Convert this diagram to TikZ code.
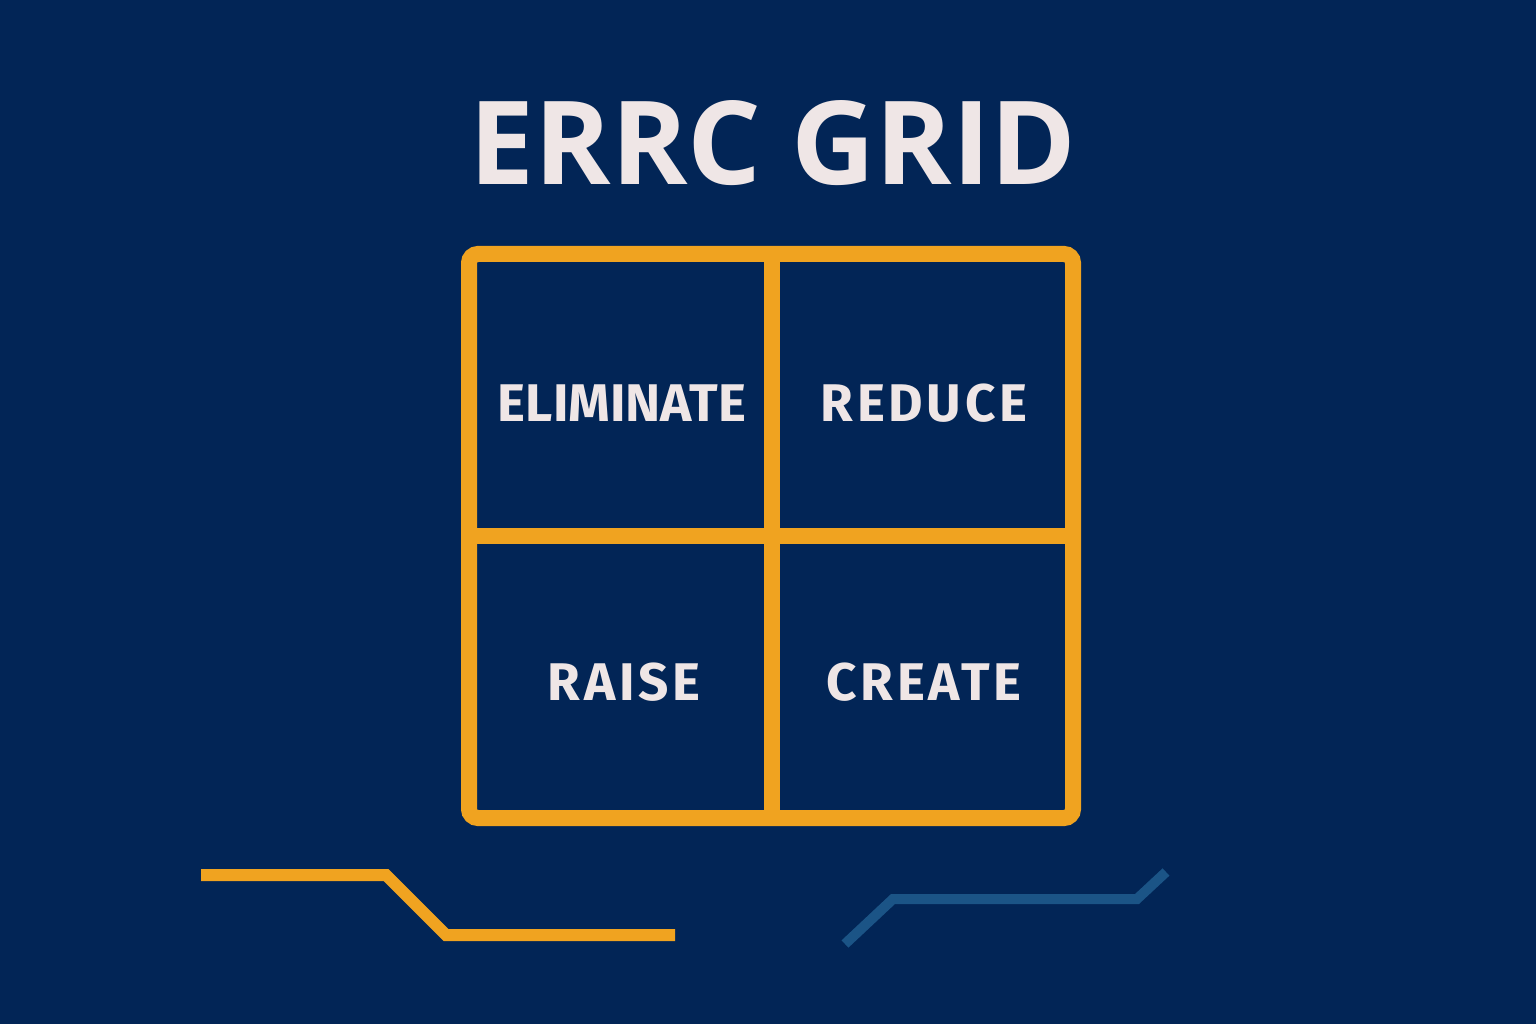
\documentclass[tikz,border=0pt]{standalone}
\usepackage{fontspec}
\setmainfont{Open Sans}
\newfontfamily\labelfont{Fira Sans}
\newfontfamily\widelabelfont[LetterSpace=7]{Fira Sans}
\definecolor{bgnavy}{HTML}{022556}
\definecolor{gridorange}{HTML}{F0A320}
\definecolor{textwhite}{HTML}{EFE6E6}
\definecolor{lineblue}{HTML}{1B5486}
\tikzset{
  framebox/.style={draw=gridorange, line width=16pt, rounded corners=9pt},
  divider/.style={draw=gridorange, line width=16pt},
  celltext/.style={text=textwhite, font=\labelfont\bfseries\fontsize{53}{56}\selectfont, anchor=center, inner sep=0pt},
  widecelltext/.style={celltext, font=\widelabelfont\bfseries\fontsize{53}{56}\selectfont},
  titletext/.style={text=textwhite, font=\bfseries\fontsize{116}{120}\selectfont, anchor=center, inner sep=0pt},
  decoorange/.style={draw=gridorange, line width=12pt},
  decoblue/.style={draw=lineblue, line width=10pt}
}
\begin{document}
\begin{tikzpicture}[x=1pt,y=-1pt]
\useasboundingbox (0,0) rectangle (1536,1024);
\fill[bgnavy] (0,0) rectangle (1536,1024);
\node[titletext] (title) at (773,143) {ERRC GRID};
\draw[framebox] (469,254) rectangle (1073,818);
\draw[divider] (772,254) -- (772,818);
\draw[divider] (469,536) -- (1073,536);
\node[celltext] (elim) at (622,403) {ELIMINATE};
\node[widecelltext] (reduce) at (924,403) {REDUCE};
\node[widecelltext] (raise) at (624,682) {RAISE};
\node[widecelltext] (create) at (924,682) {CREATE};
\draw[decoorange] (201,875) -- (386,875) -- (446,935) -- (675,935);
\draw[decoblue] (845,944) -- (893,899) -- (1137,899) -- (1166,872);
\end{tikzpicture}
\end{document}
